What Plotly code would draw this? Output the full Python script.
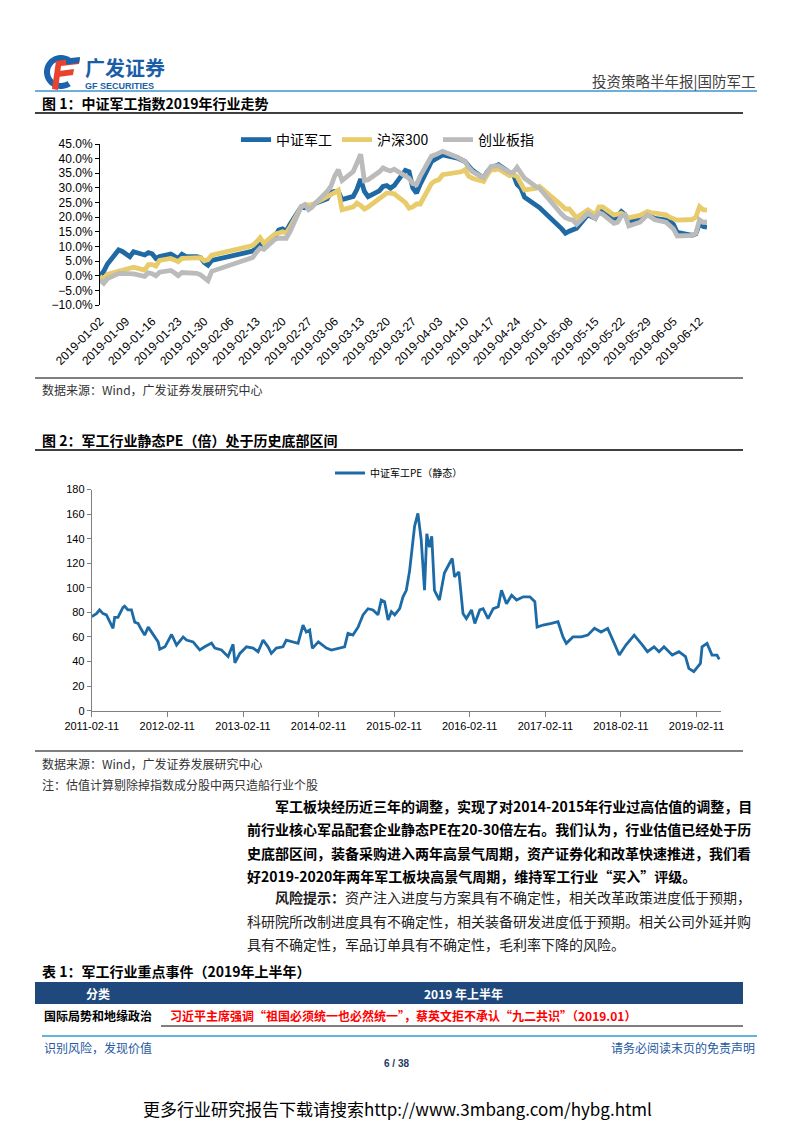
import numpy as np
import plotly.graph_objects as go

# page is 793x1122; the browser body adds an 8px margin, so the figure is 8px smaller
OFF = 8
W, H = 793 - OFF, 1122 - OFF

# ---------------- Chart 1 data: 2019 H1 index performance (%) ----------------
idx_dates = ["2019-01-02","2019-01-03","2019-01-04","2019-01-07","2019-01-08","2019-01-10","2019-01-11",
    "2019-01-14","2019-01-15","2019-01-16","2019-01-17","2019-01-18","2019-01-21","2019-01-22","2019-01-23",
    "2019-01-24","2019-01-25","2019-01-28","2019-01-29","2019-01-30","2019-01-31","2019-02-01","2019-02-11",
    "2019-02-12","2019-02-13","2019-02-14","2019-02-15","2019-02-18","2019-02-19","2019-02-20","2019-02-21",
    "2019-02-22","2019-02-25","2019-02-26","2019-02-27","2019-02-28","2019-03-01","2019-03-04","2019-03-05",
    "2019-03-06","2019-03-07","2019-03-08","2019-03-11","2019-03-12","2019-03-13","2019-03-14","2019-03-15",
    "2019-03-18","2019-03-19","2019-03-20","2019-03-21","2019-03-22","2019-03-25","2019-03-26","2019-03-27",
    "2019-03-28","2019-03-29","2019-04-01","2019-04-02","2019-04-03","2019-04-04","2019-04-08","2019-04-09",
    "2019-04-10","2019-04-11","2019-04-12","2019-04-15","2019-04-16","2019-04-17","2019-04-18","2019-04-19",
    "2019-04-22","2019-04-23","2019-04-24","2019-04-25","2019-04-26","2019-04-29","2019-04-30","2019-05-06",
    "2019-05-07","2019-05-08","2019-05-09","2019-05-10","2019-05-13","2019-05-14","2019-05-15","2019-05-16",
    "2019-05-17","2019-05-20","2019-05-21","2019-05-22","2019-05-23","2019-05-24","2019-05-27","2019-05-28",
    "2019-05-29","2019-05-30","2019-05-31","2019-06-03","2019-06-04","2019-06-05","2019-06-06","2019-06-10",
    "2019-06-11","2019-06-12","2019-06-13","2019-06-14"]

zzjg = [0, 1.5, 4.0, 8.8, 8.3, 6.5, 8.2, 7.1, 7.9, 7.5, 5.9, 6.6, 7.4, 6.8, 5.9, 7.3, 6.6, 6.5, 6.2, 4.5, 3.6,
    5.2, 8.0, 8.4, 9.5, 11.3, 10.5, 13.5, 15.6, 16.0, 15.2, 17.5, 23.5, 23.2, 23.6, 24.0, 24.8, 26.3, 28.5,
    28.8, 28.8, 26.0, 27.1, 29.5, 33.0, 28.8, 27.0, 29.0, 30.5, 30.8, 29.9, 30.8, 36.0, 35.5, 30.0, 28.2,
    31.3, 39.0, 39.8, 40.5, 41.3, 40.2, 39.5, 39.0, 37.5, 36.0, 33.4, 35.5, 36.8, 37.5, 37.9, 35.3, 34.5,
    31.2, 30.0, 26.8, 24.0, 23.3, 16.0, 14.5, 15.2, 15.6, 16.2, 20.8, 20.2, 19.6, 22.5, 22.5, 19.1, 20.5,
    21.9, 20.8, 18.5, 19.4, 20.2, 20.8, 20.2, 19.6, 19.0, 18.7, 17.5, 14.8, 13.8, 14.3, 17.9, 16.8, 16.6]

hs300 = [-0.3, -1.1, 0.5, 1.5, 1.7, 2.4, 2.9, 1.9, 3.8, 3.8, 3.3, 5.2, 5.9, 5.4, 4.8, 5.9, 5.9, 6.2, 6.2, 5.1,
    5.5, 7.0, 10.0, 10.3, 11.5, 13.0, 11.1, 14.3, 14.6, 15.0, 14.6, 16.5, 23.5, 24.2, 24.2, 24.2, 25.0, 26.8,
    27.6, 28.4, 29.2, 22.5, 23.5, 24.8, 24.0, 22.8, 23.5, 26.2, 27.5, 28.2, 28.2, 28.0, 25.0, 23.1, 23.5,
    24.5, 24.5, 31.5, 32.4, 32.8, 34.5, 35.0, 35.5, 36.2, 34.0, 33.3, 32.2, 34.5, 36.2, 36.2, 36.5, 34.2,
    34.5, 33.9, 31.5, 29.3, 29.8, 30.5, 24.0, 22.8, 22.8, 21.5, 19.8, 22.5, 21.8, 20.8, 23.5, 23.5, 20.8,
    21.0, 21.3, 20.5, 19.8, 20.6, 21.3, 21.9, 21.6, 21.3, 20.8, 20.0, 19.4, 19.0, 19.2, 20.0, 23.6, 22.5, 22.5]

cybz = [-1.5, -2.6, -1.0, 0.7, 0.8, 0.8, 0.6, -0.2, 1.0, 0.7, 0.0, 1.2, 1.8, 1.0, 0.0, 1.1, 1.1, 0.8, 0.3,
    -0.5, -1.7, 1.5, 5.6, 6.2, 8.0, 9.4, 9.0, 12.5, 12.8, 12.8, 12.8, 15.0, 23.5, 24.3, 22.6, 23.5, 25.0,
    28.8, 30.5, 34.0, 36.2, 32.5, 35.6, 38.5, 41.5, 32.5, 32.8, 35.5, 36.8, 36.2, 35.8, 36.4, 33.8, 33.3,
    31.5, 31.2, 34.0, 40.8, 41.3, 42.0, 42.5, 40.5, 39.6, 39.0, 37.0, 35.6, 33.5, 35.5, 37.3, 37.5, 37.6,
    35.3, 35.3, 37.0, 35.0, 33.3, 30.5, 29.9, 21.0, 19.8, 19.3, 19.0, 17.6, 21.3, 20.5, 19.6, 21.5, 21.0,
    17.9, 18.3, 20.4, 20.8, 17.0, 18.3, 19.5, 20.8, 20.0, 19.1, 18.3, 17.3, 16.0, 13.6, 13.8, 14.5, 19.1,
    18.2, 18.5]

idx_ticks = ["2019-01-02","2019-01-09","2019-01-16","2019-01-23","2019-01-30","2019-02-06","2019-02-13",
    "2019-02-20","2019-02-27","2019-03-06","2019-03-13","2019-03-20","2019-03-27","2019-04-03","2019-04-10",
    "2019-04-17","2019-04-24","2019-05-01","2019-05-08","2019-05-15","2019-05-22","2019-05-29","2019-06-05",
    "2019-06-12"]

# ---------------- Chart 2 data: static PE ----------------
pe_dates = ["2011-02-11","2011-03-06","2011-03-21","2011-04-07","2011-04-23","2011-05-09","2011-05-25",
    "2011-06-02","2011-06-18","2011-07-12","2011-07-20","2011-08-05","2011-08-22","2011-09-07","2011-09-23",
    "2011-10-09","2011-10-25","2011-11-11","2011-11-27","2011-12-13","2011-12-29","2012-01-06","2012-01-31",
    "2012-03-03","2012-03-27","2012-04-28","2012-05-14","2012-06-15","2012-07-17","2012-08-10","2012-09-12",
    "2012-09-28","2012-10-30","2012-12-01","2012-12-25","2013-01-03","2013-01-27","2013-02-28","2013-04-01",
    "2013-04-25","2013-05-19","2013-06-12","2013-06-28","2013-07-22","2013-08-23","2013-09-08","2013-10-11",
    "2013-11-04","2013-11-28","2013-12-14","2013-12-30","2014-01-12","2014-02-10","2014-03-21","2014-04-14",
    "2014-05-24","2014-06-17","2014-07-03","2014-07-27","2014-08-21","2014-09-14","2014-10-08","2014-11-01",
    "2014-11-25","2014-12-11","2014-12-27","2015-01-13","2015-01-29","2015-02-14","2015-03-10","2015-03-26",
    "2015-04-11","2015-04-27","2015-05-21","2015-06-06","2015-06-22","2015-06-30","2015-07-08","2015-07-19",
    "2015-08-01","2015-08-12","2015-08-25","2015-09-18","2015-10-12","2015-11-06","2015-11-19","2015-11-30",
    "2015-12-21","2016-01-10","2016-01-26","2016-02-20","2016-03-07","2016-03-31","2016-04-16","2016-05-10",
    "2016-06-04","2016-06-28","2016-07-14","2016-08-07","2016-09-01","2016-09-25","2016-10-27","2016-11-28",
    "2016-12-22","2017-01-02","2017-01-31","2017-03-12","2017-04-13","2017-05-07","2017-05-23","2017-06-24",
    "2017-08-03","2017-09-04","2017-10-06","2017-11-07","2017-12-09","2018-01-10","2018-02-03","2018-03-07",
    "2018-03-31","2018-04-16","2018-05-26","2018-06-19","2018-07-21","2018-08-14","2018-09-07","2018-10-17",
    "2018-11-18","2018-12-20","2019-01-05","2019-01-29","2019-03-02","2019-03-10","2019-04-03","2019-04-27",
    "2019-05-21","2019-06-01"]

pe_values = [76.5, 79, 82, 79, 78, 72, 67, 76, 76, 84, 85, 82, 82, 72, 71, 66, 61.5, 68, 64, 60, 56, 50, 52,
    62, 53.4, 60, 57.5, 56, 49.4, 52, 55, 51, 49.4, 44, 54, 39, 46.6, 52, 51, 48, 57.5, 52, 46.6, 51, 52,
    57.5, 56, 54.8, 69.7, 64, 65.6, 50.7, 56, 51, 49.4, 51, 52, 63, 61.5, 68, 78, 83, 82, 78, 90, 88.7, 73.8,
    80.5, 78, 83, 92.7, 98, 114, 150, 160.5, 139, 117, 98, 144, 133, 142, 98, 90, 112, 120, 124, 109, 113,
    79, 75, 82, 71, 82, 83, 75, 83, 84.6, 98, 87, 94, 90, 92.7, 92.7, 88.7, 68, 69.7, 71, 72.4, 60, 54.8, 60,
    60, 61.5, 67, 64, 67, 54.8, 45.3, 53.4, 58.8, 61.5, 53.4, 48, 52, 48, 52, 45.3, 48, 44, 34.4, 31.7, 38.5,
    52, 54.8, 45.3, 45.3, 41.8]

pe_ticks = ["2011-02-11","2012-02-11","2013-02-11","2014-02-11","2015-02-11","2016-02-11","2017-02-11",
    "2018-02-11","2019-02-11"]

# ---------------- helpers (page pixel -> paper) ----------------
def PX(x): return (x - OFF) / W
def PY(y): return 1 - (y - OFF) / H

CJK = "Noto Sans CJK SC"
ARIAL = "Liberation Sans"
BLUE, YEL, GRY = "#1F6AA5", "#E8CB6A", "#BBBBBB"

fig = go.Figure()
fig.add_trace(go.Scatter(x=idx_dates, y=zzjg, name="中证军工", mode="lines",
                         line=dict(color=BLUE, width=4.8), legend="legend"))
fig.add_trace(go.Scatter(x=idx_dates, y=hs300, name="沪深300", mode="lines",
                         line=dict(color=YEL, width=4.8), legend="legend"))
fig.add_trace(go.Scatter(x=idx_dates, y=cybz, name="创业板指", mode="lines",
                         line=dict(color=GRY, width=4.8), legend="legend"))
fig.add_trace(go.Scatter(x=pe_dates, y=pe_values, name="中证军工PE（静态）", mode="lines",
                         xaxis="x2", yaxis="y2", line=dict(color="#1C6AA6", width=2.8), legend="legend2"))

y1dom = [PY(305), PY(144)]
y2dom = [PY(710.7), PY(489.5)]

fig.update_layout(
    template="none",
    width=W, height=H, margin=dict(l=0, r=0, t=0, b=0, pad=0, autoexpand=False),
    paper_bgcolor="white", plot_bgcolor="rgba(0,0,0,0)",
    font=dict(family=CJK, color="black"),
    xaxis=dict(domain=[PX(100), PX(707)], anchor="y", type="date", automargin=False,
               range=["2019-01-02", "2019-06-14"], tickvals=idx_ticks, ticktext=idx_ticks,
               tickangle=-45, showline=False, ticks="", showgrid=False, zeroline=False,
               ticklabelstandoff=6,
               tickfont=dict(family=ARIAL, size=12, color="black")),
    xaxis3=dict(overlaying="x", anchor="free", automargin=False,
                position=y1dom[0] + (10 / 55) * (y1dom[1] - y1dom[0]), type="date",
                range=["2019-01-02", "2019-06-14"], tickvals=idx_ticks, showticklabels=False,
                showline=True, linecolor="black", linewidth=1, ticks="outside", ticklen=5,
                tickcolor="black", showgrid=False, zeroline=False),
    yaxis=dict(domain=y1dom, anchor="x", range=[-10, 45], dtick=5, tickformat=".1f", automargin=False,
               ticksuffix="%", showline=True, linecolor="black", linewidth=1, ticks="outside",
               ticklen=4, tickcolor="black", showgrid=False, zeroline=False,
               tickfont=dict(family=ARIAL, size=12, color="black")),
    xaxis2=dict(domain=[PX(91.7), PX(720.7)], anchor="y2", type="date", automargin=False,
                range=["2011-02-11", "2019-06-08"], tickvals=pe_ticks, ticktext=pe_ticks,
                showline=True, linecolor="#7F7F7F", linewidth=1, ticks="outside", ticklen=5,
                tickcolor="#7F7F7F", showgrid=False, zeroline=False,
                tickfont=dict(family=ARIAL, size=11, color="black")),
    yaxis2=dict(domain=y2dom, anchor="x2", range=[0, 180], dtick=20, showline=True, automargin=False,
                linecolor="#7F7F7F", linewidth=1, ticks="outside", ticklen=4, tickcolor="#7F7F7F",
                showgrid=False, zeroline=False, tickfont=dict(family=ARIAL, size=11, color="black")),
    legend=dict(orientation="h", x=PX(236), y=PY(140), xanchor="left", yanchor="middle",
                font=dict(family=CJK, size=14, color="black"), bgcolor="rgba(0,0,0,0)",
                itemwidth=30, entrywidthmode="pixels", entrywidth=56, tracegroupgap=0),
    legend2=dict(orientation="h", x=PX(330), y=PY(473), xanchor="left", yanchor="middle",
                 font=dict(family=CJK, size=10, color="black"), bgcolor="rgba(0,0,0,0)",
                 itemwidth=30),
    showlegend=True,
)

# ---------------- page decorations ----------------
shapes = []
def hline(y, x0, x1, color="black", width=1.2):
    shapes.append(dict(type="line", xref="paper", yref="paper", x0=PX(x0), x1=PX(x1),
                       y0=PY(y), y1=PY(y), line=dict(color=color, width=width)))

def poly(points, color):
    d = "M " + " L ".join(f"{PX(x):.5f},{PY(y):.5f}" for x, y in points) + " Z"
    shapes.append(dict(type="path", xref="paper", yref="paper", path=d,
                       fillcolor=color, line=dict(width=0)))

# logo: blue crescent + red F
cx, cy, ro, ri = 61, 72, 17, 11
ang = np.linspace(np.radians(55), np.radians(305), 40)
outer = [(cx + ro * np.cos(a), cy - ro * np.sin(a)) for a in ang]
inner = [(cx + ri * np.cos(a), cy - ri * np.sin(a)) for a in ang[::-1]]
poly(outer + inner, "#1C63AE")
poly([(56, 61), (80, 58), (79, 64), (61, 66), (58, 90), (52, 89)], "#E8432C")
poly([(59, 71), (74, 69), (73, 75), (58, 77)], "#E8432C")
poly([(66, 58.5), (80, 57), (79, 63), (66, 64.5)], "#1C63AE")

hline(91, 35, 757, "#3C93D0", 1.5)
hline(113, 35, 743, "black", 1.5)
hline(378, 35, 743, "black", 1.2)
hline(450, 35, 743, "black", 1.5)
hline(751, 35, 743, "black", 1.2)
shapes.append(dict(type="rect", xref="paper", yref="paper", x0=PX(35), x1=PX(743), y0=PY(1004),
                   y1=PY(982), fillcolor="#1F497D", line=dict(width=0)))
hline(1026, 161, 743, "black", 1.2)
hline(1036, 42, 757, "#2E9BD6", 1.5)

ann = []
def text(x, y, s, size=12, color="black", anchor="left", bold=False, family=CJK):
    ann.append(dict(xref="paper", yref="paper", x=PX(x), y=PY(y), text=(f"<b>{s}</b>" if bold else s),
                    showarrow=False, xanchor=anchor, yanchor="middle",
                    font=dict(family=family, size=size, color=color)))

text(83, 68, "广发证券", 20, "#1B5EA8", bold=True)
text(83, 86, "GF SECURITIES", 9, "#1B5EA8", bold=True, family=ARIAL)
text(757, 80, "投资策略半年报|国防军工", 14.5, "#404040", anchor="right")
text(40, 103, "图 1：中证军工指数2019年行业走势", 14, bold=True)
text(40, 389, "数据来源：Wind，广发证券发展研究中心", 12, "#333333")
text(40, 440, "图 2：军工行业静态PE（倍）处于历史底部区间", 14, bold=True)
text(40, 763, "数据来源：Wind，广发证券发展研究中心", 12, "#333333")
text(40, 784, "注：估值计算剔除掉指数成分股中两只造船行业个股", 12, "#333333")

para = ["军工板块经历近三年的调整，实现了对2014-2015年行业过高估值的调整，目",
        "前行业核心军品配套企业静态PE在20-30倍左右。我们认为，行业估值已经处于历",
        "史底部区间，装备采购进入两年高景气周期，资产证券化和改革快速推进，我们看",
        "好2019-2020年两年军工板块高景气周期，维持军工行业“买入”评级。"]
for i, (s, y) in enumerate(zip(para, [805.5, 829, 852.5, 876])):
    text(273 if i == 0 else 245, y, s, 14, bold=True)

risk = ["<b>风险提示：</b>资产注入进度与方案具有不确定性，相关改革政策进度低于预期，",
        "科研院所改制进度具有不确定性，相关装备研发进度低于预期。相关公司外延并购",
        "具有不确定性，军品订单具有不确定性，毛利率下降的风险。"]
for i, (s, y) in enumerate(zip(risk, [897, 921, 944])):
    text(273 if i == 0 else 245, y, s, 14, "#222222")

text(40, 971, "表 1：军工行业重点事件（2019年上半年）", 14, bold=True)
text(98, 993, "分类", 12, "white", anchor="center", bold=True)
text(463, 993, "2019 年上半年", 12, "white", anchor="center", bold=True)
text(42, 1015.5, "国际局势和地缘政治", 12, bold=True)
text(168, 1015.5, "习近平主席强调“祖国必须统一也必然统一”，蔡英文拒不承认“九二共识”（2019.01）",
     12, "#FF0000", bold=True)
text(42, 1047, "识别风险，发现价值", 12, "#24589F")
text(757, 1047, "请务必阅读末页的免责声明", 12, "#24589F", anchor="right")
text(396, 1063, "6 / 38", 10, "#1F3864", anchor="center", bold=True, family=ARIAL)
text(397, 1108, "更多行业研究报告下载请搜索http://www.3mbang.com/hybg.html", 17, "black", anchor="center")

fig.update_layout(shapes=shapes, annotations=ann)
fig.write_html("out.html")
